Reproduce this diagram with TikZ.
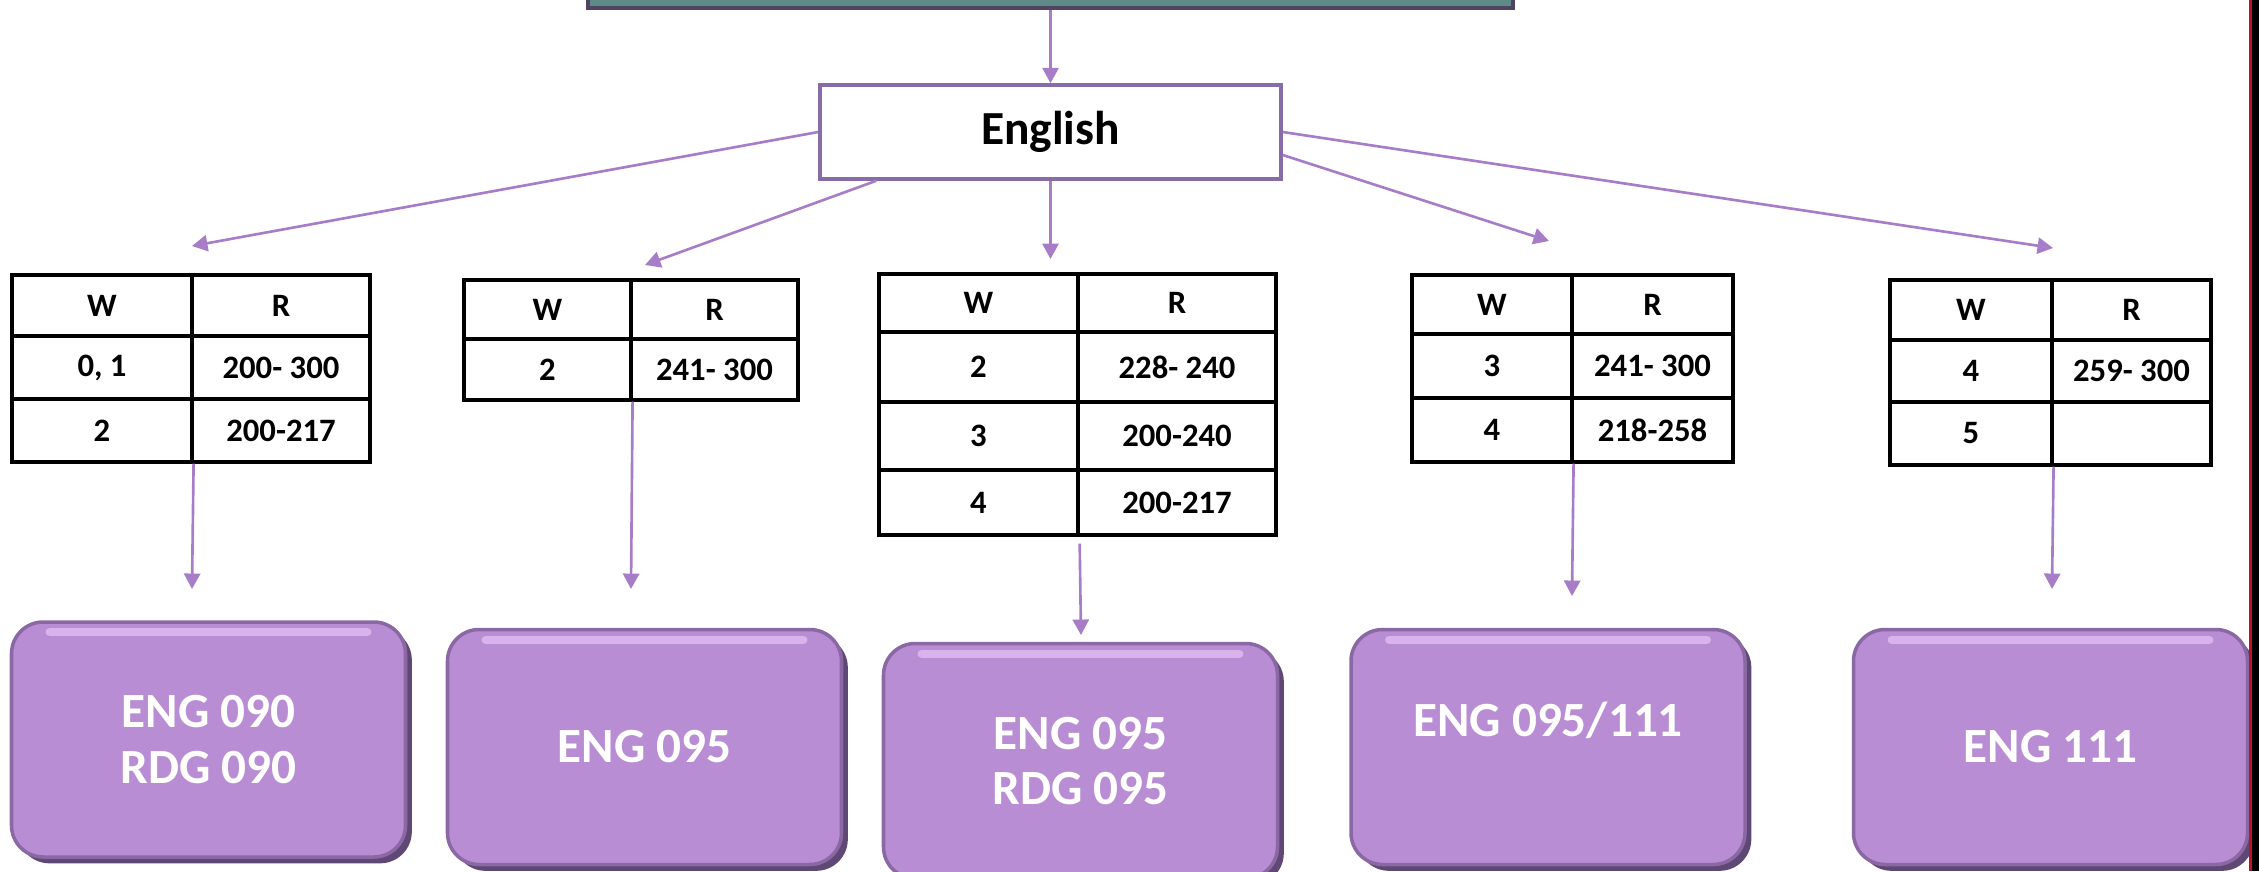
\documentclass[tikz,border=0pt]{standalone}
\usepackage{fontspec}
\setmainfont{Carlito}
\usepackage{tikz}
\usetikzlibrary{positioning, calc}
\usetikzlibrary{arrows.meta, shadows}

\definecolor{linkc}{RGB}{167,125,200}
\definecolor{engedge}{RGB}{135,108,168}
\definecolor{boxfill}{RGB}{184,141,212}
\definecolor{boxdark}{RGB}{96,72,116}
\definecolor{boxedge}{RGB}{138,104,164}
\definecolor{boxhi}{RGB}{226,190,242}
\definecolor{topfill}{RGB}{94,139,136}
\definecolor{topedge}{RGB}{78,70,96}
\definecolor{redline}{RGB}{192,16,42}

\tikzset{
  link/.style = {draw=linkc, line width=0.75pt, -{Triangle[length=4.4pt,width=4.6pt]}},
  cell/.style 2 args = {draw=black, line width=0.9pt, inner sep=0pt,
    minimum width=#1cm, minimum height=#2cm, font=\fontsize{9.3}{11}\selectfont\bfseries},
  course/.style = {rounded corners=9pt, fill=boxfill, draw=boxedge, line width=1pt,
    minimum width=3.94cm, minimum height=2.35cm, align=center, text=white,
    font=\fontsize{14}{15.9}\selectfont\bfseries,
    drop shadow={shadow xshift=1.8pt, shadow yshift=-1.8pt, fill=boxdark, opacity=1}},
  hilite/.style = {draw=boxhi, line width=2.4pt, line cap=round, opacity=0.8}
}

\begin{document}
\begin{tikzpicture}
    \useasboundingbox (0,0) rectangle (22.59,-8.71);
    \clip (0,0) rectangle (22.59,-8.71);

    % top box and English
    \node[draw=topedge, fill=topfill, line width=1pt, minimum width=9.25cm, minimum height=0.6cm] (top) at (10.505,0.22) {};
    \node[draw=engedge, line width=1pt, fill=white, minimum width=4.61cm, minimum height=0.94cm,
        font=\fontsize{13.5}{16}\selectfont\bfseries] (eng) at (10.505,-1.32) {English};
    \draw[link] (top.south) -- (eng.north);

    \coordinate (e1) at (1.92,-2.46);
    \coordinate (e2) at (6.45,-2.65);
    \coordinate (e3) at (10.505,-2.59);
    \coordinate (e4) at (15.49,-2.41);
    \coordinate (e5) at (20.53,-2.48);
    \draw[link] (eng.west) -- (e1);
    \draw[link] ([xshift=0.58cm]eng.south west) -- (e2);
    \draw[link] (eng.south) -- (e3);
    \draw[link] ([yshift=-0.23cm]eng.east) -- (e4);
    \draw[link] (eng.east) -- (e5);

    % tables
    \node[cell={1.80}{0.61}] (t1a) at (1.02,-3.055) {W};
    \node[cell={1.78}{0.61}] (t1b) at (2.81,-3.055) {R};
    \node[cell={1.80}{0.63}] (t1c) at (1.02,-3.675) {0, 1};
    \node[cell={1.78}{0.63}] (t1d) at (2.81,-3.675) {200- 300};
    \node[cell={1.80}{0.63}] (t1e) at (1.02,-4.305) {2};
    \node[cell={1.78}{0.63}] (t1f) at (2.81,-4.305) {200-217};

    \node[cell={1.67}{0.59}] (t2a) at (5.475,-3.095) {W};
    \node[cell={1.67}{0.59}] (t2b) at (7.145,-3.095) {R};
    \node[cell={1.67}{0.61}] (t2c) at (5.475,-3.695) {2};
    \node[cell={1.67}{0.61}] (t2d) at (7.145,-3.695) {241- 300};

    \node[cell={1.99}{0.58}] (t3a) at (9.785,-3.03) {W};
    \node[cell={1.98}{0.58}] (t3b) at (11.77,-3.03) {R};
    \node[cell={1.99}{0.70}] (t3c) at (9.785,-3.67) {2};
    \node[cell={1.98}{0.70}] (t3d) at (11.77,-3.67) {228- 240};
    \node[cell={1.99}{0.68}] (t3e) at (9.785,-4.36) {3};
    \node[cell={1.98}{0.68}] (t3f) at (11.77,-4.36) {200-240};
    \node[cell={1.99}{0.65}] (t3g) at (9.785,-5.025) {4};
    \node[cell={1.98}{0.65}] (t3h) at (11.77,-5.025) {200-217};

    \node[cell={1.60}{0.59}] (t4a) at (14.92,-3.045) {W};
    \node[cell={1.61}{0.59}] (t4b) at (16.525,-3.045) {R};
    \node[cell={1.60}{0.64}] (t4c) at (14.92,-3.66) {3};
    \node[cell={1.61}{0.64}] (t4d) at (16.525,-3.66) {241- 300};
    \node[cell={1.60}{0.64}] (t4e) at (14.92,-4.30) {4};
    \node[cell={1.61}{0.64}] (t4f) at (16.525,-4.30) {218-258};

    \node[cell={1.62}{0.60}] (t5a) at (19.71,-3.10) {W};
    \node[cell={1.59}{0.60}] (t5b) at (21.315,-3.10) {R};
    \node[cell={1.62}{0.62}] (t5c) at (19.71,-3.71) {4};
    \node[cell={1.59}{0.62}] (t5d) at (21.315,-3.71) {259- 300};
    \node[cell={1.62}{0.63}] (t5e) at (19.71,-4.335) {5};
    \node[cell={1.59}{0.63}] (t5f) at (21.315,-4.335) {};

    % courses
    \node[course] (b1) at (2.085,-7.395) {ENG 090\\RDG 090};
    \node[course] (b2) at (6.445,-7.47) {ENG 095};
    \node[course] (b3) at (10.805,-7.61) {ENG 095\\RDG 095};
    \node[course] (b4) at (15.48,-7.47) {ENG 095/111\\~};
    \node[course] (b5) at (20.505,-7.47) {ENG 111};
    \foreach \b in {b1,b2,b3,b4,b5}
        \draw[hilite] ([xshift=0.4cm,yshift=-0.12cm]\b.north west) -- ([xshift=-0.4cm,yshift=-0.12cm]\b.north east);

    \coordinate (c1) at (1.92,-5.89);
    \coordinate (c2) at (6.31,-5.89);
    \coordinate (c3) at (10.81,-6.35);
    \coordinate (c4) at (15.72,-5.96);
    \coordinate (c5) at (20.52,-5.89);
    \draw[link] (t1e.south east) -- (c1);
    \draw[link] (t2c.south east) -- (c2);
    \draw[link, shorten <=0.07cm] (t3g.south east) -- (c3);
    \draw[link] (t4e.south east) -- (c4);
    \draw[link] (t5e.south east) -- (c5);

    % right edge
    \fill[black] (22.52,0) rectangle (22.59,-8.71);
    \draw[redline, line width=1pt] (22.505,0) -- (22.505,-8.71);
\end{tikzpicture}
\end{document}
